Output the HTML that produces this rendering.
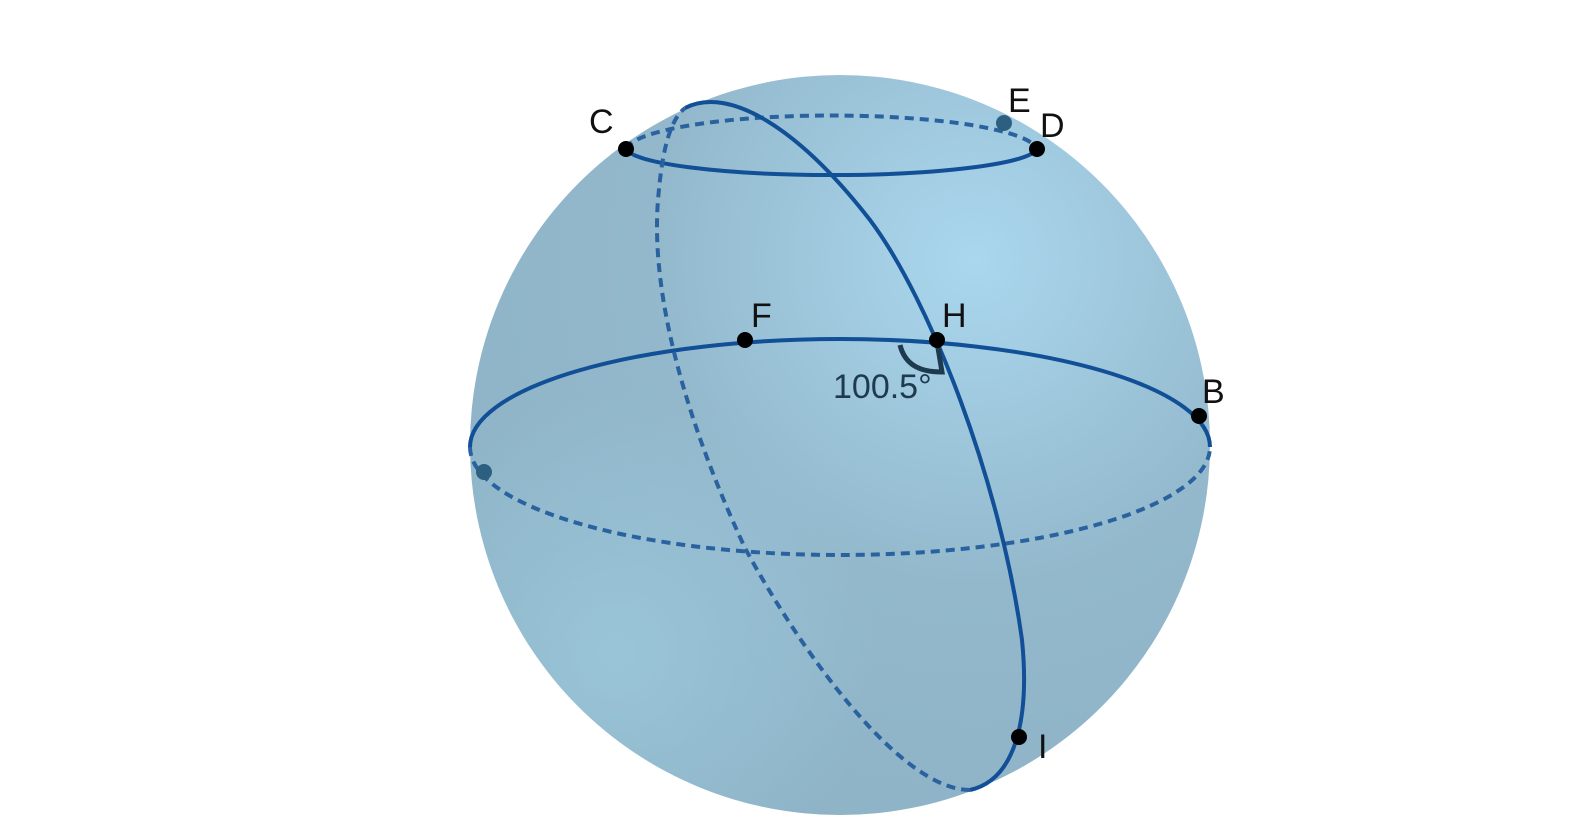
<!DOCTYPE html>
<html><head><meta charset="utf-8"><style>
html,body{margin:0;padding:0;background:#fff;width:1590px;height:835px;overflow:hidden}
text{font-family:"Liberation Sans",sans-serif;fill:#111}
</style></head><body>
<svg width="1590" height="835" viewBox="0 0 1590 835">
<defs>
<radialGradient id="g1" cx="0.68" cy="0.25" r="0.8">
<stop offset="0" stop-color="#aad7ee"/><stop offset="0.55" stop-color="#93b8cc"/><stop offset="1" stop-color="#8eb3c6"/>
</radialGradient>
<radialGradient id="g2" cx="0.2" cy="0.78" r="0.35">
<stop offset="0" stop-color="#9cc8dc" stop-opacity="0.8"/><stop offset="1" stop-color="#9cc8dc" stop-opacity="0"/>
</radialGradient>
</defs>
<circle cx="840" cy="445" r="370" fill="url(#g1)"/>
<circle cx="840" cy="445" r="370" fill="url(#g2)"/>
<g fill="none" stroke="#114f96" stroke-width="4">
<path d="M470,447 A370,108 0 0 1 1210,447"/>
<path d="M470,447 A370,108 0 0 0 1210,447" stroke="#2a62a0" stroke-dasharray="9,6"/>
<path d="M626,149 A206,28 0 0 0 1037,149"/>
<path d="M626,149 A206,36 0 0 1 1037,149" stroke="#2a62a0" stroke-dasharray="9,6"/>
<path d="M685,108 C730,85 800,130 870,220 C930,300 1000,480 1022,640 C1030,720 1015,780 970,790"/>
<path d="M970,790 C900,790 800,650 745,548 C690,430 650,300 658,200 C662,150 670,120 685,108" stroke="#2a62a0" stroke-dasharray="9,6"/>
</g>
<path d="M900,345 C905,365 920,372 942,372 L937,342" fill="none" stroke="#1e3a4e" stroke-width="5"/>
<g>
<circle cx="626" cy="149" r="8" fill="#000"/>
<circle cx="1037" cy="149" r="8" fill="#000"/>
<circle cx="1004" cy="123" r="8" fill="#2d5f80"/>
<circle cx="745" cy="340" r="8" fill="#000"/>
<circle cx="937" cy="340" r="8" fill="#000"/>
<circle cx="1199" cy="416" r="8" fill="#000"/>
<circle cx="484" cy="472" r="8" fill="#2d5f80"/>
<circle cx="1019" cy="737" r="8" fill="#000"/>
</g>
<g font-size="34">
<text x="589" y="133">C</text>
<text x="1008" y="112">E</text>
<text x="1040" y="137">D</text>
<text x="751" y="327">F</text>
<text x="942" y="327">H</text>
<text x="1202" y="403">B</text>
<text x="1038" y="758">I</text>
<text x="833" y="398" style="fill:#1e3a4e">100.5°</text>
</g>
</svg>
</body></html>
